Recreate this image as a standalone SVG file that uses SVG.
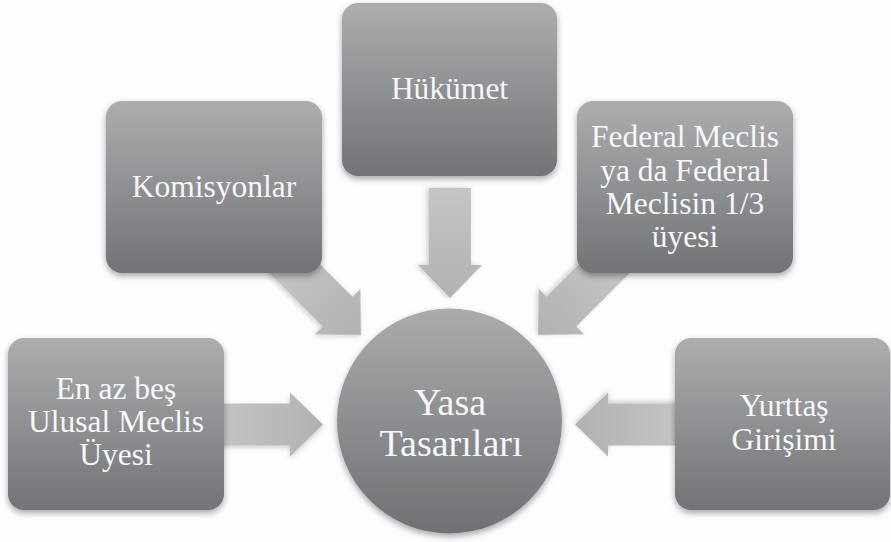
<svg xmlns="http://www.w3.org/2000/svg" width="891" height="542" viewBox="0 0 891 542">
<defs>
<linearGradient id="gBox" x1="0" y1="0" x2="0" y2="1">
<stop offset="0" stop-color="#acadaf"/>
<stop offset="1" stop-color="#727377"/>
</linearGradient>
<linearGradient id="gCirc" x1="0" y1="0" x2="0" y2="1">
<stop offset="0" stop-color="#aaabad"/>
<stop offset="1" stop-color="#6f7074"/>
</linearGradient>
<linearGradient id="gArr" x1="0" y1="0" x2="1" y2="0">
<stop offset="0" stop-color="#c4c5c7"/>
<stop offset="1" stop-color="#b0b1b3"/>
</linearGradient>
<filter id="sh" x="-20%" y="-20%" width="140%" height="140%">
<feDropShadow dx="0" dy="3" stdDeviation="3" flood-color="#000" flood-opacity="0.35"/>
</filter>
<filter id="shA" x="-20%" y="-20%" width="140%" height="140%">
<feDropShadow dx="0" dy="2" stdDeviation="2.5" flood-color="#000" flood-opacity="0.2"/>
</filter>
<path id="arrow" d="M-110,-21 L-33,-21 L-33,-32 L0,0 L-33,32 L-33,21 L-110,21 Z"/>
</defs>
<style>
.box{fill:url(#gBox);filter:url(#sh)}
.circ{fill:url(#gCirc);filter:url(#sh)}
.arr{fill:url(#gArr);filter:url(#shA)}
.t{font-family:"Liberation Serif","Times New Roman",serif;font-size:31.5px;fill:#f7f7f7;text-anchor:middle}
.tc{font-size:38px}
</style>
<rect width="891" height="542" fill="#fdfdfd"/>
<g id="connectors">
<use href="#arrow" class="arr" transform="translate(323,424.5)"/>
<use href="#arrow" class="arr" transform="translate(575,424.5) rotate(180)"/>
<use href="#arrow" class="arr" transform="translate(450,298) rotate(90)"/>
<use href="#arrow" class="arr" transform="translate(361,335) rotate(45)"/>
<use href="#arrow" class="arr" transform="translate(538,335) rotate(135)"/>
</g>
<g id="node-hukumet">
<rect class="box" x="342" y="3" width="215" height="173" rx="16"/>
<text class="t" x="449.5" y="99">Hükümet</text>
</g>
<g id="node-komisyonlar">
<rect class="box" x="106" y="101" width="216" height="172" rx="16"/>
<text class="t" x="214" y="197">Komisyonlar</text>
</g>
<g id="node-federal">
<rect class="box" x="577" y="101" width="216" height="172" rx="16"/>
<text class="t" x="685" y="147">Federal Meclis</text>
<text class="t" x="685" y="180.5">ya da Federal</text>
<text class="t" x="685" y="214">Meclisin 1/3</text>
<text class="t" x="685" y="247">üyesi</text>
</g>
<g id="node-enaz">
<rect class="box" x="8" y="338" width="216" height="172" rx="16"/>
<text class="t" x="116" y="399">En az beş</text>
<text class="t" x="116" y="432">Ulusal Meclis</text>
<text class="t" x="116" y="465">Üyesi</text>
</g>
<g id="node-yurttas">
<rect class="box" x="675" y="338" width="215" height="172" rx="16"/>
<text class="t" x="784" y="416">Yurttaş</text>
<text class="t" x="784" y="450">Girişimi</text>
</g>
<g id="node-yasa">
<circle class="circ" cx="449.5" cy="421" r="112.5"/>
<text class="t tc" x="450" y="415">Yasa</text>
<text class="t tc" x="451" y="456">Tasarıları</text>
</g>
</svg>
